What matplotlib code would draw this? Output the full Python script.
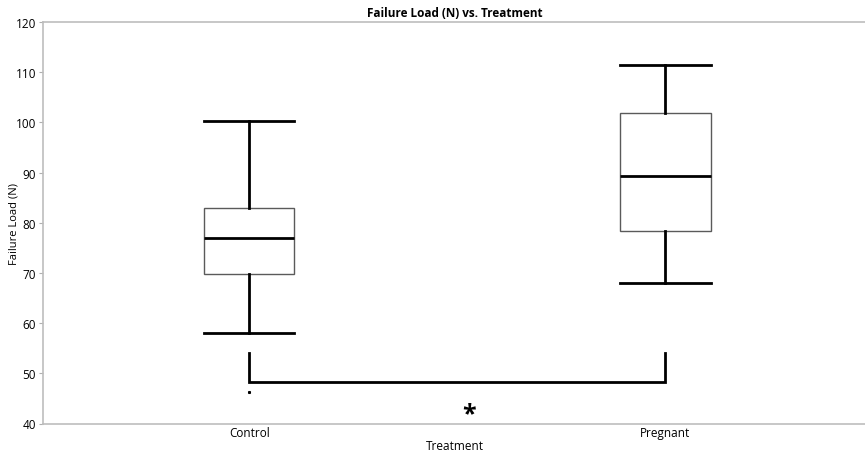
import matplotlib
matplotlib.use("Agg")
import matplotlib.pyplot as plt

plt.rcParams['font.family'] = ['Open Sans', 'DejaVu Sans']

categories = ["Control", "Pregnant"]
whisker_low = [58.0, 68.0]
q1 = [69.7, 78.3]
median = [76.9, 89.4]
q3 = [83.0, 101.9]
whisker_high = [100.2, 111.4]

# significance bracket between the two groups
bracket_top = 54.0
bracket_bottom = 48.3
marker_dot = 46.3
star_x = 0.528
star_y = 42.0
yticks = [40, 50, 60, 70, 80, 90, 100, 110, 120]

fig = plt.figure(figsize=(8.65, 4.52), dpi=100)
ax = fig.add_axes([43 / 865, 1 - 424.5 / 452, 1 - 43 / 865 + 0.002, (424.5 - 23) / 452])

stats = []
for i, c in enumerate(categories):
    stats.append(dict(label=c, whislo=whisker_low[i], q1=q1[i], med=median[i],
                      q3=q3[i], whishi=whisker_high[i], fliers=[]))

ax.bxp(stats, positions=range(len(categories)), widths=0.217, showfliers=False,
       patch_artist=True,
       boxprops=dict(facecolor="white", edgecolor="#5a5a5a", linewidth=1.0),
       medianprops=dict(color="black", linewidth=2.0),
       whiskerprops=dict(color="black", linewidth=2.0),
       capprops=dict(color="black", linewidth=2.0),
       capwidths=0.217)

ax.plot([0, 0, 1, 1], [bracket_top, bracket_bottom, bracket_bottom, bracket_top],
        color="black", linewidth=2.0, solid_joinstyle="miter")
ax.plot([0], [marker_dot], marker="s", markersize=1.2, color="black", linestyle="none")
ax.text(star_x, star_y, "*", ha="center", va="center", fontsize=18, fontweight="bold")

ax.set_xlim(-0.496, 1.484)
ax.set_ylim(40, 120)
ax.set_yticks(yticks)
ax.set_xticks(range(len(categories)))
ax.set_xticklabels(categories)
ax.tick_params(axis="y", length=3, color="#b0b0b0", labelsize=8.5, pad=2)
ax.tick_params(axis="x", length=0, labelsize=8.5, pad=2)
for s in ["left", "bottom", "top"]:
    ax.spines[s].set_color("#bdbdbd")
    ax.spines[s].set_linewidth(1.2)
ax.spines["right"].set_visible(False)

ax.set_title("Failure Load (N) vs. Treatment", fontsize=8.5, fontweight="bold", pad=4)
ax.set_xlabel("Treatment", fontsize=8.5, labelpad=0)
ax.set_ylabel("Failure Load (N)", fontsize=8, va="center")
ax.yaxis.set_label_coords(-0.0355, 0.5)

fig.savefig("out.png", dpi=100)
